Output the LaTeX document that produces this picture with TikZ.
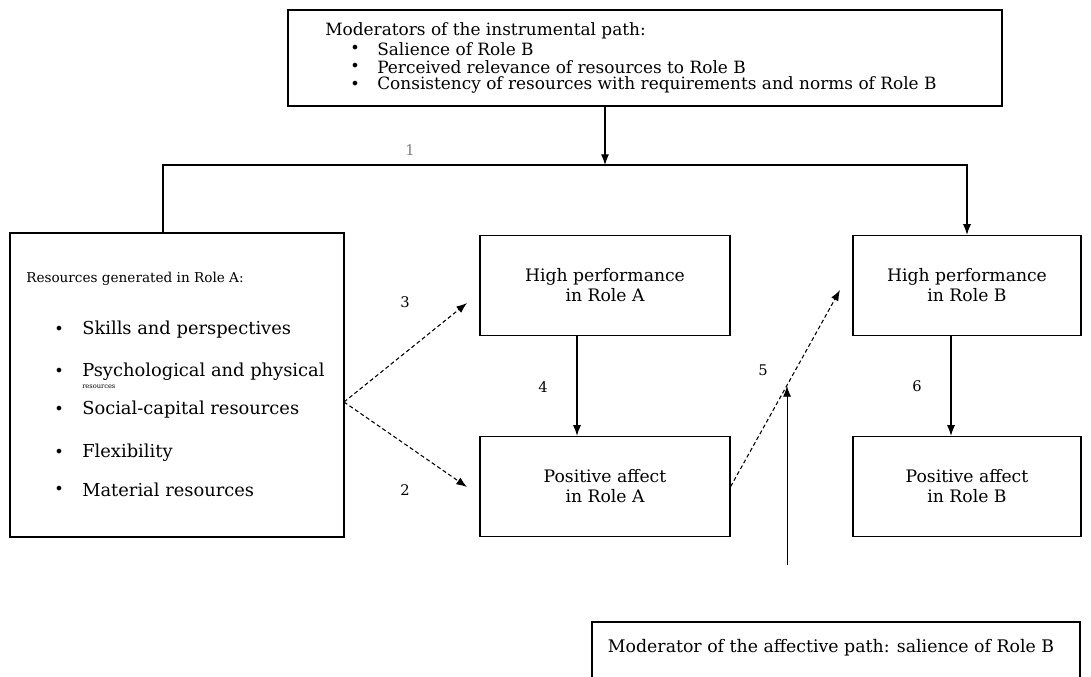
\documentclass[tikz,border=0pt]{standalone}
\usepackage{fontspec}
\setmainfont{DejaVu Serif}
\usetikzlibrary{arrows, arrows.meta, positioning}
\tikzset{
  box/.style={draw, line width=1pt, minimum width=#1, minimum height=75pt, align=center, font=\fontsize{12.9}{15}\selectfont},
  link/.style={line width=0.8pt, -{Latex[length=8pt,width=6pt]}},
  dlink/.style={link, densely dashed},
  num/.style={font=\fontsize{11}{13}\selectfont},
  txt/.style={anchor=west, inner sep=0pt, font=\fontsize{#1}{#1}\selectfont},
}

\begin{document}
\begin{tikzpicture}[x=0.75pt, y=-0.75pt]
\useasboundingbox (0,0) rectangle (1091,677);

% moderators of the instrumental path
\node[draw, line width=1pt, minimum width=535.5pt, minimum height=72pt] (modinst) at (645,58) {};
\node[txt=12.7] (modtitle) at (325,31) {Moderators of the instrumental path:};
\foreach \y/\t in {49/Salience of Role B,
                   67/Perceived relevance of resources to Role B,
                   85/Consistency of resources with requirements and norms of Role B}
  \node[txt=12.7] at (377,\y) {\t};
\foreach \y in {49,67,85}
  \node[txt=12] at (350,\y) {•};

% resources box
\node[draw, line width=1pt, minimum width=250.5pt, minimum height=228pt] (res) at (177,385) {};
\node[txt=10.2] (restitle) at (26,279) {Resources generated in Role A:};
\foreach \y/\t in {330/Skills and perspectives,
                   372/Psychological and physical,
                   410/Social-capital resources,
                   453/Flexibility,
                   490/Material resources}
  \node[txt=13.4] at (82,\y) {\t};
\node[txt=5] (psyres) at (82,387) {resources};
\foreach \y in {330,372,410,453,490}
  \node[txt=12] at (54,\y) {•};

% outcome boxes
\node[box=187.5pt] (hpA) at (605,285.5) {High performance\\in Role A};
\node[box=187.5pt] (paA) at (605,486.5) {Positive affect\\in Role A};
\node[box=171pt] (hpB) at (967,285.5) {High performance\\in Role B};
\node[box=171pt] (paB) at (967,486.5) {Positive affect\\in Role B};

% moderator of the affective path
\node[draw, line width=1pt, minimum width=366pt, minimum height=57pt] (modaff) at (836,660) {};
\node[txt=13, anchor=center] (modafftxt) at (831,648) {Moderator of the affective path: salience of Role B};

% instrumental path
\coordinate (split) at (605,165);
\coordinate (jl) at (163,165);
\draw[link] (modinst.south -| split) -- (split);
\draw[link] (res.north -| jl) -- (jl) -| (hpB.north);

% paths 2 and 3
\coordinate (fork) at (344,402);
\coordinate (t3) at (467,303);
\coordinate (t2) at (467,487);
\draw[dlink] (fork) -- (t3);
\draw[dlink] (fork) -- (t2);

% paths 4, 5 and 6
\coordinate (x4) at (577,0);
\coordinate (x6) at (951,0);
\coordinate (t5) at (840,290);
\draw[link] (hpA.south -| x4) -- (paA.north -| x4);
\draw[dlink] (paA.east) -- (t5);
\draw[link] (hpB.south -| x6) -- (paB.north -| x6);

% affective moderator
\coordinate (m0) at (787,565);
\coordinate (m1) at (787,386);
\draw[link, line width=0.6pt] (m0) -- (m1);

% path numbers
\node[num, gray] (n1) at (410,150) {1};
\node[num] (n3) at (405,302) {3};
\node[num] (n2) at (405,490) {2};
\node[num] (n4) at (543,387) {4};
\node[num] (n5) at (763,370) {5};
\node[num] (n6) at (917,386) {6};
\end{tikzpicture}
\end{document}
